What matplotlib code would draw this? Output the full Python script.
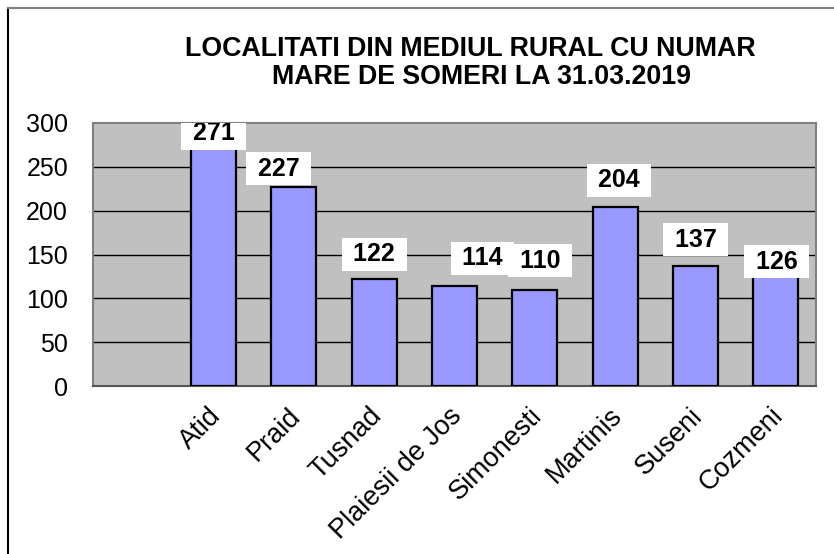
# -*- coding: utf-8 -*-
"""Localitati din mediul rural cu numar mare de someri la 31.03.2019 - bar chart."""

import matplotlib
matplotlib.use("Agg")
import matplotlib.pyplot as plt
from matplotlib.lines import Line2D
from matplotlib.transforms import ScaledTranslation

plt.rcParams["font.family"] = ["Liberation Sans", "DejaVu Sans"]

# ---- date ----
LOCALITATI = ["", "Atid", "Praid", "Tusnad", "Plaiesii de Jos", "Simonesti",
              "Martinis", "Suseni", "Cozmeni"]
SOMERI = [None, 271, 227, 122, 114, 110, 204, 137, 126]
Y_TICKS = [0, 50, 100, 150, 200, 250, 300]

# deplasarea etichetelor (pixeli), ca in Excel unde au fost mutate manual
LABEL_DX = [0, 0, -15, 0, 28, 5, 4, 0, 1]
LABEL_DY = [0, 15, 18, 25, 28, 29, 27, 26, 14]

BAR_COLOR = "#9999FF"
PLOT_BG = "#C0C0C0"


def main():
    fig = plt.figure(figsize=(8.34, 5.54), dpi=100)
    ax = fig.add_axes([93 / 834, 1 - 386 / 554, (816 - 93) / 834, (386 - 123) / 554])
    ax.set_facecolor(PLOT_BG)

    xs = list(range(len(LOCALITATI)))
    idx = [i for i, v in enumerate(SOMERI) if v is not None]
    bars = ax.bar([xs[i] for i in idx], [SOMERI[i] for i in idx], width=0.56,
                  color=BAR_COLOR, edgecolor="black", linewidth=1.6, zorder=3)

    for i, b in zip(idx, bars):
        v = SOMERI[i]
        ax.annotate(f" {v} ", xy=(b.get_x() + b.get_width() / 2, v),
                    xytext=(LABEL_DX[i], LABEL_DY[i]), textcoords="offset pixels",
                    ha="center", va="center", fontsize=18, fontweight="bold",
                    bbox=dict(boxstyle="square,pad=0.18", fc="white", ec="none"),
                    zorder=5, clip_on=True)

    ax.set_xlim(-0.5, len(LOCALITATI) - 0.5)
    ax.set_ylim(0, 300)
    ax.set_yticks(Y_TICKS)
    ax.set_yticklabels([str(t) for t in Y_TICKS], fontsize=18)
    ax.tick_params(axis="y", length=0, pad=18)

    ax.set_xticks(xs)
    ax.set_xticklabels(LOCALITATI, fontsize=19.5, rotation=45, ha="right",
                       va="top", rotation_mode="anchor")
    ax.tick_params(axis="x", length=0, pad=12)
    shift = ScaledTranslation(-6 / 100, 0, fig.dpi_scale_trans)
    for lbl in ax.get_xticklabels():
        lbl.set_transform(lbl.get_transform() + shift)

    # grila orizontala neagra
    for t in Y_TICKS[1:-1]:
        ax.axhline(t, color="black", linewidth=1.0, zorder=1)

    for s in ax.spines.values():
        s.set_color("#808080")
        s.set_linewidth(1.5)
    ax.spines["bottom"].set_color("#555555")

    # titlu
    fig.text(470 / 834, 1 - 56 / 554, "LOCALITATI DIN MEDIUL RURAL CU NUMAR",
             ha="center", va="baseline", fontsize=19.3, fontweight="bold")
    fig.text(482 / 834, 1 - 84 / 554, "MARE DE SOMERI LA 31.03.2019",
             ha="center", va="baseline", fontsize=19.3, fontweight="bold")

    # chenarul graficului (doar stanga si sus sunt vizibile)
    fig.add_artist(Line2D([8 / 834, 8 / 834], [0, 1 - 8 / 554], color="black",
                          linewidth=1.5, transform=fig.transFigure))
    fig.add_artist(Line2D([8 / 834, 1], [1 - 8 / 554, 1 - 8 / 554], color="#808080",
                          linewidth=1.5, transform=fig.transFigure))

    fig.savefig("out.png", dpi=100)
    plt.close(fig)


if __name__ == "__main__":
    main()
